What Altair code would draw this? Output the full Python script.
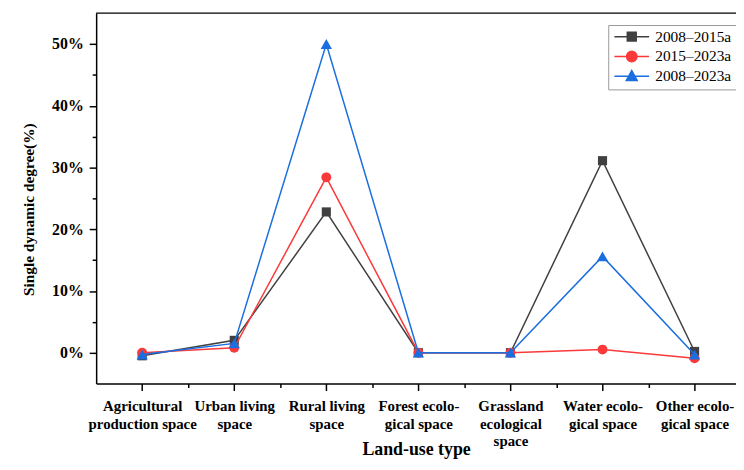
import json
import altair as alt
import pandas as pd

# ---- data ----
categories = [
    "Agricultural\nproduction space",
    "Urban living\nspace",
    "Rural living\nspace",
    "Forest ecolo-\ngical space",
    "Grassland\necological\nspace",
    "Water ecolo-\ngical space",
    "Other ecolo-\ngical space",
]
series_names = ["2008–2015a", "2015–2023a", "2008–2023a"]
values_2008_2015 = [-0.5, 2.0, 22.8, 0.0, 0.0, 31.1, 0.2]
values_2015_2023 = [0.0, 0.8, 28.4, 0.0, 0.0, 0.5, -0.9]
values_2008_2023 = [-0.3, 1.5, 50.0, 0.0, 0.0, 15.6, -0.3]
y_tick_values = [0, 5, 10, 15, 20, 25, 30, 35, 40, 45, 50]
x_tick_values = [1, 1.5, 2, 2.5, 3, 3.5, 4, 4.5, 5, 5.5, 6, 6.5, 7]

series_colors = ["#404040", "#fa3a3a", "#1a6ee0"]
point_shapes = ["square", "circle", "triangle-up"]
point_sizes = [85, 100, 130]
legend_paths = [
    "M-3.5,0H3.5M-0.9,-0.9H0.9V0.9H-0.9Z",
    "M-3.5,0H3.5M1.05,0A1.05,1.05,0,1,1,-1.05,0A1.05,1.05,0,1,1,1.05,0Z",
    "M-3.5,0H3.5M0,-1.15L1.1,0.85L-1.1,0.85Z",
]

rows = []
for name, vals in zip(series_names, [values_2008_2015, values_2015_2023, values_2008_2023]):
    for i, v in enumerate(vals):
        rows.append({"series": name, "pos": i + 1, "value": v})
df = pd.DataFrame(rows)

FONT = "Liberation Serif"
W, H = 646, 374

label_lines = [c.split("\n") for c in categories]
x_label_expr = "datum.value % 1 === 0 ? " + json.dumps(label_lines) + "[datum.value - 1] : ''"

# legend symbol (line + marker) chosen per entry
sym_expr = "'" + legend_paths[-1] + "'"
for nm, p in reversed(list(zip(series_names[:-1], legend_paths[:-1]))):
    sym_expr = f"datum.value === '{nm}' ? '{p}' : ({sym_expr})"

x_enc = alt.X(
    "pos:Q",
    scale=alt.Scale(domain=[0.5, 7.45], nice=False, zero=False),
    axis=alt.Axis(
        values=x_tick_values,
        labelExpr=x_label_expr,
        title="Land-use type",
        labelFont=FONT, labelFontSize=15, labelFontWeight="bold", labelColor="black",
        labelLineHeight=18, labelOverlap=False, labelFlush=False, labelBound=False,
        labelAlign="center", labelBaseline="top", labelPadding=8,
        tickSize={"condition": {"test": "datum.value % 1 === 0", "value": 7}, "value": 4},
        tickColor="black", tickWidth=1.5,
        domainColor="black", domainWidth=1.5,
        grid=False,
        titleFont=FONT, titleFontSize=18, titleFontWeight="bold", titleColor="black",
        titleBaseline="alphabetic", titleY=72,
    ),
)
y_enc = alt.Y(
    "value:Q",
    scale=alt.Scale(domain=[-5, 55], nice=False, zero=False),
    axis=alt.Axis(
        values=y_tick_values,
        labelExpr="datum.value % 10 === 0 ? datum.value + '%' : ''",
        title="Single dynamic degree(%)",
        labelFont=FONT, labelFontSize=16, labelFontWeight="bold", labelColor="black",
        labelPadding=6,
        tickSize={"condition": {"test": "datum.value % 10 === 0", "value": 7}, "value": 4},
        tickColor="black", tickWidth=1.5,
        domainColor="black", domainWidth=1.5,
        grid=False,
        titleFont=FONT, titleFontSize=15.5, titleFontWeight="bold", titleColor="black",
        titleAngle=-90, titleX=-68, titleY=198, titleAlign="center", titleBaseline="middle",
    ),
)
color_scale = alt.Scale(domain=series_names, range=series_colors)
leg = alt.Legend(
    title=None, orient="none", legendX=517, legendY=12,
    symbolType={"expr": sym_expr},
    symbolStrokeColor={"expr": "scale('color', datum.value)"},
    symbolFillColor={"expr": "scale('color', datum.value)"},
)

base = alt.Chart(df)
layers = []
for name, shp, sz in zip(series_names, point_shapes, point_sizes):
    sub = base.transform_filter(alt.datum.series == name)
    layers.append(
        sub.mark_line(strokeWidth=1.5).encode(
            x=x_enc, y=y_enc, color=alt.Color("series:N", scale=color_scale, legend=leg)
        )
    )
    layers.append(
        sub.mark_point(shape=shp, filled=True, size=sz, opacity=1).encode(
            x=x_enc, y=y_enc, color=alt.Color("series:N", scale=color_scale, legend=leg)
        )
    )

top_border = alt.Chart(pd.DataFrame({"a": [0]})).mark_rule(color="black", strokeWidth=1.5).encode(
    x=alt.value(0), x2=alt.value(W), y=alt.value(0)
)

chart = alt.layer(*layers, top_border).properties(
    width=W, height=H,
    autosize=alt.AutoSizeParams(type="none"),
    padding={"left": 89, "top": 3, "right": 0, "bottom": 76},
).configure_view(stroke=None).configure_legend(
    padding=4, strokeColor="#999999", rowPadding=2,
    symbolOffset=12, labelOffset=16, symbolSize=100, symbolStrokeWidth=1.5,
    symbolOpacity=1, labelFont=FONT, labelFontSize=15.5, labelColor="black",
)

chart.save("out.html", embed_options={"renderer": "svg", "actions": False})
